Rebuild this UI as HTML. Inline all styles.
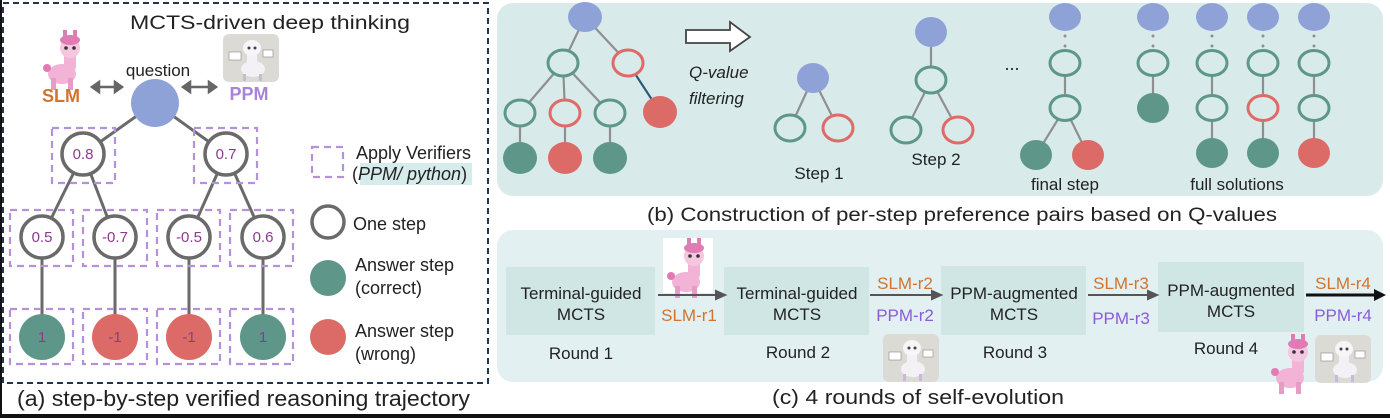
<!DOCTYPE html>
<html><head><meta charset="utf-8"><style>
html,body{margin:0;padding:0;background:#fff;}
svg{display:block;}
text{font-family:"Liberation Sans",Arial,sans-serif;}
</style></head><body>
<svg width="1390" height="418" viewBox="0 0 1390 418" xmlns="http://www.w3.org/2000/svg">
<defs>
<g id="pink">
  <ellipse cx="0" cy="18" rx="14" ry="10" fill="#f2b3d6"/>
  <rect x="-11" y="22" width="5" height="12" fill="#e79cc6"/>
  <rect x="6" y="22" width="5" height="12" fill="#e79cc6"/>
  <circle cx="-15" cy="12" r="4" fill="#e07bb3"/>
  <rect x="2" y="-4" width="12" height="20" rx="5" fill="#f2b3d6"/>
  <ellipse cx="8" cy="-8" rx="10" ry="10" fill="#f5c6e0"/>
  <ellipse cx="8" cy="-16" rx="10" ry="5" fill="#e07bb3"/>
  <rect x="1" y="-26" width="4" height="8" fill="#e07bb3"/>
  <rect x="11" y="-26" width="4" height="8" fill="#e07bb3"/>
  <circle cx="4" cy="-8" r="1.8" fill="#333"/><circle cx="12" cy="-8" r="1.8" fill="#333"/>
</g>
<g id="ppm">
  <rect x="0" y="0" width="56" height="48" rx="6" fill="#dcdad5"/>
  <ellipse cx="30" cy="35" rx="12" ry="8" fill="#f4f1f6"/>
  <rect x="24" y="12" width="10" height="22" rx="4" fill="#f4f1f6"/>
  <ellipse cx="29" cy="14" rx="9" ry="8" fill="#f7f5f8"/>
  <circle cx="26" cy="14" r="1.5" fill="#444"/><circle cx="32" cy="14" r="1.5" fill="#444"/>
  <rect x="6" y="18" width="12" height="8" fill="#fff" stroke="#888" stroke-width="0.6"/>
  <rect x="40" y="16" width="10" height="7" fill="#fff" stroke="#888" stroke-width="0.6"/>
  <rect x="20" y="40" width="3" height="7" fill="#cbb8dc"/><rect x="36" y="40" width="3" height="7" fill="#cbb8dc"/>
</g>
</defs>

<rect x="0" y="0" width="2" height="418" fill="#111"/>
<rect x="0" y="414" width="1390" height="4" fill="#111"/>

<rect x="3" y="3" width="485" height="380" fill="none" stroke="#1f3550" stroke-width="2" stroke-dasharray="6 4"/>
<text x="270" y="29" font-size="19" text-anchor="middle" fill="#222" textLength="280" lengthAdjust="spacingAndGlyphs">MCTS-driven deep thinking</text>
<use href="#pink" x="62" y="56"/>
<use href="#ppm" x="223" y="34"/>
<text x="158" y="76" font-size="17" text-anchor="middle" fill="#222">question</text>
<text x="61" y="102" font-size="18" font-weight="bold" text-anchor="middle" fill="#d2742e">SLM</text>
<text x="249" y="100" font-size="18" font-weight="bold" text-anchor="middle" fill="#a883dc">PPM</text>
<g stroke="#666" stroke-width="2.5" fill="#666">
  <line x1="97" y1="87" x2="117" y2="87"/><polygon points="92,87 99,82 99,92"/><polygon points="122,87 115,82 115,92"/>
  <line x1="188" y1="87" x2="211" y2="87"/><polygon points="183,87 190,82 190,92"/><polygon points="216,87 209,82 209,92"/>
</g>
<g stroke="#6a6a6a" stroke-width="3">
  <line x1="155" y1="103" x2="83" y2="154"/><line x1="155" y1="103" x2="226" y2="154"/>
  <line x1="83" y1="154" x2="42" y2="237"/><line x1="83" y1="154" x2="115" y2="237"/>
  <line x1="226" y1="154" x2="189" y2="237"/><line x1="226" y1="154" x2="263" y2="237"/>
  <line x1="42" y1="237" x2="42" y2="337"/><line x1="115" y1="237" x2="115" y2="337"/>
  <line x1="189" y1="237" x2="189" y2="337"/><line x1="263" y1="237" x2="263" y2="337"/>
</g>
<g fill="none" stroke="#b491dc" stroke-width="2.2" stroke-dasharray="7 5">
  <rect x="52" y="128" width="63" height="55"/><rect x="194" y="128" width="63" height="55"/>
  <rect x="10" y="210" width="63" height="56"/><rect x="83" y="210" width="64" height="56"/>
  <rect x="157" y="210" width="63" height="56"/><rect x="230" y="210" width="63" height="56"/>
  <rect x="10" y="309" width="63" height="55"/><rect x="83" y="309" width="64" height="55"/>
  <rect x="157" y="309" width="63" height="55"/><rect x="230" y="309" width="63" height="55"/>
  <rect x="312" y="147" width="31" height="30"/>
</g>
<circle cx="155" cy="103" r="24" fill="#8fa2d8"/>
<g fill="#fff" stroke="#6a6a6a" stroke-width="3.5">
  <circle cx="83" cy="154" r="21"/><circle cx="226" cy="154" r="21"/>
  <circle cx="42" cy="237" r="21"/><circle cx="115" cy="237" r="21"/>
  <circle cx="189" cy="237" r="21"/><circle cx="263" cy="237" r="21"/>
  <circle cx="328" cy="222" r="16"/>
</g>
<circle cx="42" cy="337" r="23" fill="#5e978a"/><circle cx="115" cy="337" r="23" fill="#dc6a66"/>
<circle cx="189" cy="337" r="23" fill="#dc6a66"/><circle cx="263" cy="337" r="23" fill="#5e978a"/>
<circle cx="328" cy="278" r="18" fill="#5e978a"/><circle cx="328" cy="337" r="18" fill="#dc6a66"/>
<g font-size="15" fill="#8b3a8f" text-anchor="middle">
  <text x="83" y="159">0.8</text><text x="226" y="159">0.7</text>
  <text x="42" y="242">0.5</text><text x="115" y="242">-0.7</text>
  <text x="189" y="242">-0.5</text><text x="263" y="242">0.6</text>
  <text x="42" y="342">1</text><text x="115" y="342">-1</text>
  <text x="189" y="342">-1</text><text x="263" y="342">1</text>
</g>
<rect x="360" y="163" width="112" height="22" fill="#d6ecea"/>
<g font-size="18" fill="#222">
  <text x="356" y="159">Apply Verifiers</text>
  <text x="352" y="180">(<tspan font-style="italic">PPM/ python</tspan>)</text>
  <text x="353" y="230">One step</text>
  <text x="355" y="271">Answer step</text>
  <text x="355" y="294">(correct)</text>
  <text x="355" y="337">Answer step</text>
  <text x="355" y="360">(wrong)</text>
</g>
<text x="17" y="406" font-size="22" fill="#222" textLength="453" lengthAdjust="spacingAndGlyphs">(a) step-by-step verified reasoning trajectory</text>

<rect x="497" y="3" width="886" height="193" rx="16" fill="#d8ebea"/>
<g stroke="#8f8f8f" stroke-width="2.2">
  <line x1="585" y1="17" x2="563" y2="63"/><line x1="585" y1="17" x2="628" y2="63"/>
  <line x1="563" y1="63" x2="520" y2="113"/><line x1="563" y1="63" x2="565" y2="113"/><line x1="563" y1="63" x2="610" y2="113"/>
  <line x1="520" y1="113" x2="520" y2="158"/><line x1="565" y1="113" x2="565" y2="158"/><line x1="610" y1="113" x2="610" y2="158"/>
  <line x1="813" y1="78" x2="790" y2="128"/><line x1="813" y1="78" x2="838" y2="128"/>
  <line x1="931" y1="32" x2="931" y2="80"/><line x1="931" y1="80" x2="906" y2="130"/><line x1="931" y1="80" x2="958" y2="130"/>
  <line x1="1065" y1="63" x2="1065" y2="108"/><line x1="1065" y1="108" x2="1036" y2="155"/><line x1="1065" y1="108" x2="1088" y2="155"/>
  <line x1="1153" y1="63" x2="1153" y2="108"/>
  <line x1="1212" y1="63" x2="1212" y2="153"/><line x1="1263" y1="63" x2="1263" y2="153"/><line x1="1314" y1="63" x2="1314" y2="153"/>
</g>
<line x1="628" y1="63" x2="660" y2="112" stroke="#2a5a7a" stroke-width="2.2"/>
<g fill="#8f8f8f">
  <circle cx="1065" cy="36" r="1.5"/><circle cx="1065" cy="46" r="1.5"/>
  <circle cx="1153" cy="36" r="1.5"/><circle cx="1153" cy="46" r="1.5"/>
  <circle cx="1212" cy="36" r="1.5"/><circle cx="1212" cy="46" r="1.5"/>
  <circle cx="1263" cy="36" r="1.5"/><circle cx="1263" cy="46" r="1.5"/>
  <circle cx="1314" cy="36" r="1.5"/><circle cx="1314" cy="46" r="1.5"/>
</g>
<g fill="#8fa2d8">
  <ellipse cx="585" cy="17" rx="17" ry="15"/><ellipse cx="813" cy="78" rx="16" ry="15"/>
  <ellipse cx="931" cy="32" rx="16" ry="15"/><ellipse cx="1065" cy="17" rx="16" ry="14"/>
  <ellipse cx="1153" cy="17" rx="16" ry="14"/><ellipse cx="1212" cy="17" rx="16" ry="14"/>
  <ellipse cx="1263" cy="17" rx="16" ry="14"/><ellipse cx="1314" cy="17" rx="16" ry="14"/>
</g>
<g fill="#d8ebea" stroke="#5e978a" stroke-width="3">
  <ellipse cx="563" cy="63" rx="15" ry="13"/><ellipse cx="520" cy="113" rx="15" ry="13"/><ellipse cx="610" cy="113" rx="15" ry="13"/>
  <ellipse cx="790" cy="128" rx="15" ry="13"/><ellipse cx="931" cy="80" rx="15" ry="13"/><ellipse cx="906" cy="130" rx="15" ry="13"/>
  <ellipse cx="1065" cy="63" rx="15" ry="12.5"/><ellipse cx="1065" cy="108" rx="15" ry="12.5"/>
  <ellipse cx="1153" cy="63" rx="15" ry="12.5"/><ellipse cx="1212" cy="63" rx="15" ry="12.5"/><ellipse cx="1263" cy="63" rx="15" ry="12.5"/><ellipse cx="1314" cy="63" rx="15" ry="12.5"/>
  <ellipse cx="1212" cy="108" rx="15" ry="12.5"/><ellipse cx="1314" cy="108" rx="15" ry="12.5"/>
</g>
<g fill="#d8ebea" stroke="#e06a68" stroke-width="3">
  <ellipse cx="628" cy="63" rx="15" ry="13"/><ellipse cx="565" cy="113" rx="15" ry="13"/>
  <ellipse cx="838" cy="128" rx="15" ry="13"/><ellipse cx="958" cy="130" rx="15" ry="13"/>
  <ellipse cx="1263" cy="108" rx="15" ry="12.5"/>
</g>
<g fill="#5e978a">
  <ellipse cx="520" cy="158" rx="17" ry="16"/><ellipse cx="610" cy="158" rx="17" ry="16"/>
  <ellipse cx="1036" cy="155" rx="16" ry="15"/><ellipse cx="1153" cy="108" rx="16" ry="15"/>
  <ellipse cx="1212" cy="153" rx="16" ry="15"/><ellipse cx="1263" cy="153" rx="16" ry="15"/>
</g>
<g fill="#dc6a66">
  <ellipse cx="565" cy="158" rx="17" ry="16"/><ellipse cx="660" cy="112" rx="17" ry="16"/>
  <ellipse cx="1088" cy="155" rx="16" ry="15"/><ellipse cx="1314" cy="153" rx="16" ry="15"/>
</g>
<polygon points="686,30 730,30 730,22 750,37 730,51 730,43 686,43" fill="#fff" stroke="#444" stroke-width="1.8"/>
<g font-size="17" font-style="italic" fill="#222">
  <text x="689" y="78">Q-value</text><text x="689" y="104">filtering</text>
</g>
<text x="1012" y="70" font-size="18" text-anchor="middle" fill="#222">...</text>
<g font-size="17" fill="#222" text-anchor="middle">
  <text x="819" y="179">Step 1</text><text x="936" y="165">Step 2</text>
  <text x="1065" y="190">final step</text><text x="1237" y="190">full solutions</text>
</g>
<text x="647" y="221" font-size="19" fill="#222" textLength="630" lengthAdjust="spacingAndGlyphs">(b) Construction of per-step preference pairs based on Q-values</text>

<rect x="497" y="230" width="886" height="152" rx="16" fill="#e3f0f2"/>
<g fill="#cfe6e4">
  <rect x="506" y="267" width="149" height="68"/><rect x="724" y="267" width="145" height="68"/>
  <rect x="941" y="266" width="145" height="69"/><rect x="1158" y="262" width="146" height="70"/>
</g>
<g font-size="17" fill="#222" text-anchor="middle">
  <text x="581" y="299">Terminal-guided</text><text x="581" y="320">MCTS</text>
  <text x="797" y="299">Terminal-guided</text><text x="797" y="320">MCTS</text>
  <text x="1014" y="299">PPM-augmented</text><text x="1014" y="320">MCTS</text>
  <text x="1231" y="296">PPM-augmented</text><text x="1231" y="317">MCTS</text>
  <text x="581" y="359">Round 1</text><text x="798" y="358">Round 2</text>
  <text x="1015" y="358">Round 3</text><text x="1226" y="354">Round 4</text>
</g>
<rect x="663" y="238" width="50" height="55" fill="#fff"/>
<use href="#pink" x="686" y="264"/>
<use href="#ppm" x="883" y="334"/>
<use href="#pink" x="1290" y="360"/>
<use href="#ppm" x="1315" y="335"/>
<g stroke="#555" stroke-width="2" fill="#555">
  <line x1="658" y1="295" x2="718" y2="295"/><polygon points="725,295 716,291 716,299"/>
  <line x1="870" y1="295" x2="934" y2="295"/><polygon points="941,295 932,291 932,299"/>
  <line x1="1088" y1="295" x2="1150" y2="295"/><polygon points="1157,295 1148,291 1148,299"/>
</g>
<line x1="1306" y1="295" x2="1376" y2="295" stroke="#111" stroke-width="3"/><polygon points="1386,295 1374,289 1374,301" fill="#111"/>
<g font-size="17" text-anchor="middle">
  <text x="689" y="321" fill="#d2742e">SLM-r1</text>
  <text x="905" y="289" fill="#d2742e">SLM-r2</text><text x="905" y="321" fill="#8a5cd6">PPM-r2</text>
  <text x="1121" y="289" fill="#d2742e">SLM-r3</text><text x="1121" y="324" fill="#8a5cd6">PPM-r3</text>
  <text x="1343" y="289" fill="#d2742e">SLM-r4</text><text x="1343" y="321" fill="#8a5cd6">PPM-r4</text>
</g>
<text x="772" y="404" font-size="20" fill="#222" textLength="292" lengthAdjust="spacingAndGlyphs">(c) 4 rounds of self-evolution</text>
</svg>
</body></html>
